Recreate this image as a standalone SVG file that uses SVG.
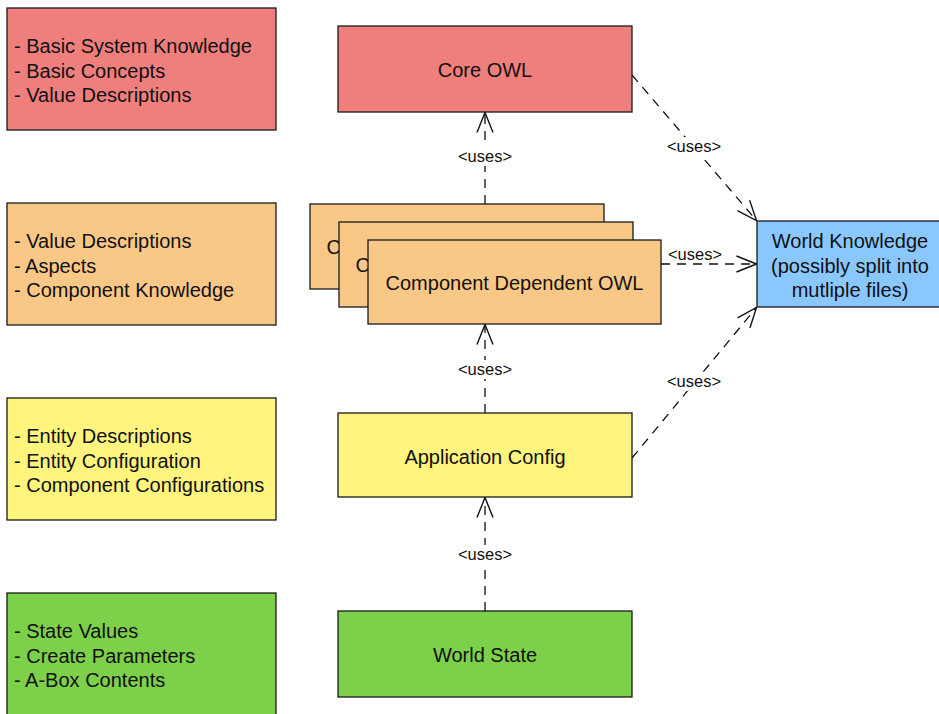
<svg xmlns="http://www.w3.org/2000/svg" width="939" height="714" viewBox="0 0 939 714">
  <defs>
    <style>
      .box { stroke: #1a1a1a; stroke-width: 1.3; }
      .red { fill: #EF7F7D; }
      .orange { fill: #FAC886; }
      .yellow { fill: #FFF47E; }
      .green { fill: #7DD04A; }
      .blue { fill: #8BC7FF; }
      text { font-family: "Liberation Sans", Arial, sans-serif; fill: #111; }
      .node { font-size: 20px; text-anchor: middle; }
      .peek { font-size: 20px; }
      .note { font-size: 20px; }
      .lbl { font-size: 16.5px; text-anchor: middle; }
      .dep { fill: none; stroke: #111; stroke-width: 1.3; stroke-dasharray: 9 7; }
      .lblbg { fill: #fff; }
    </style>
    <marker id="open" viewBox="0 0 22 18" refX="21" refY="9" markerWidth="22" markerHeight="18" markerUnits="userSpaceOnUse" orient="auto">
      <path d="M1,1 L21,9 L1,17" fill="none" stroke="#111" stroke-width="1.4"/>
    </marker>
  </defs>

  <!-- legend notes on the left -->
  <g id="note-core">
    <rect class="box red" x="7" y="8" width="269" height="122"/>
    <text class="note"><tspan x="14" y="53">- Basic System Knowledge</tspan><tspan x="14" y="77.5">- Basic Concepts</tspan><tspan x="14" y="102">- Value Descriptions</tspan></text>
  </g>
  <g id="note-component">
    <rect class="box orange" x="7" y="203" width="269" height="122"/>
    <text class="note"><tspan x="14" y="248">- Value Descriptions</tspan><tspan x="14" y="272.5">- Aspects</tspan><tspan x="14" y="297">- Component Knowledge</tspan></text>
  </g>
  <g id="note-app">
    <rect class="box yellow" x="7" y="398" width="269" height="122"/>
    <text class="note"><tspan x="14" y="443">- Entity Descriptions</tspan><tspan x="14" y="467.5">- Entity Configuration</tspan><tspan x="14" y="492">- Component Configurations</tspan></text>
  </g>
  <g id="note-state">
    <rect class="box green" x="7" y="593" width="269" height="124"/>
    <text class="note"><tspan x="14" y="638">- State Values</tspan><tspan x="14" y="662.5">- Create Parameters</tspan><tspan x="14" y="687">- A-Box Contents</tspan></text>
  </g>

  <!-- connectors -->
  <g id="connectors">
    <line class="dep" x1="485" y1="204" x2="485" y2="112.5" marker-end="url(#open)"/>
    <line class="dep" x1="661" y1="264" x2="756.5" y2="264" marker-end="url(#open)"/>
    <line class="dep" x1="632" y1="75" x2="756.5" y2="220.5" marker-end="url(#open)"/>
    <line class="dep" x1="632" y1="458" x2="756.5" y2="307.5" marker-end="url(#open)"/>
    <line class="dep" x1="485" y1="413" x2="485" y2="324.5" marker-end="url(#open)"/>
    <line class="dep" x1="485" y1="611" x2="485" y2="497.5" marker-end="url(#open)"/>

    <rect class="lblbg" x="455" y="146" width="60" height="20"/>
    <text class="lbl" x="485" y="162">&lt;uses&gt;</text>
    <rect class="lblbg" x="665" y="246" width="60" height="16"/>
    <text class="lbl" x="695" y="260">&lt;uses&gt;</text>
    <rect class="lblbg" x="664" y="137" width="60" height="19"/>
    <text class="lbl" x="694" y="152">&lt;uses&gt;</text>
    <rect class="lblbg" x="664" y="372" width="60" height="19"/>
    <text class="lbl" x="694" y="387">&lt;uses&gt;</text>
    <rect class="lblbg" x="455" y="360" width="60" height="19"/>
    <text class="lbl" x="485" y="375">&lt;uses&gt;</text>
    <rect class="lblbg" x="455" y="545" width="60" height="19"/>
    <text class="lbl" x="485" y="560">&lt;uses&gt;</text>
  </g>

  <!-- nodes -->
  <g id="core-owl">
    <rect class="box red" x="338" y="26" width="294" height="86"/>
    <text class="node" x="485" y="77">Core OWL</text>
  </g>
  <g id="component-owl">
    <!-- stacked copies: only the first letter shows past the sheet in front -->
    <rect class="box orange" x="310" y="204" width="294" height="85"/>
    <text class="peek" x="326.5" y="254">C</text>
    <rect class="box orange" x="339" y="222" width="294" height="85"/>
    <text class="peek" x="355.5" y="272">C</text>
    <rect class="box orange" x="368" y="240" width="293" height="84"/>
    <text class="node" x="514.5" y="290">Component Dependent OWL</text>
  </g>
  <g id="app-config">
    <rect class="box yellow" x="338" y="413" width="294" height="84"/>
    <text class="node" x="485" y="464">Application Config</text>
  </g>
  <g id="world-state">
    <rect class="box green" x="338" y="611" width="294" height="86"/>
    <text class="node" x="485" y="662">World State</text>
  </g>
  <g id="world-knowledge">
    <rect class="box blue" x="757" y="221" width="186" height="86"/>
    <text class="node"><tspan x="850" y="248">World Knowledge</tspan><tspan x="850" y="272.5">(possibly split into</tspan><tspan x="850" y="297">mutliple files)</tspan></text>
  </g>
</svg>
